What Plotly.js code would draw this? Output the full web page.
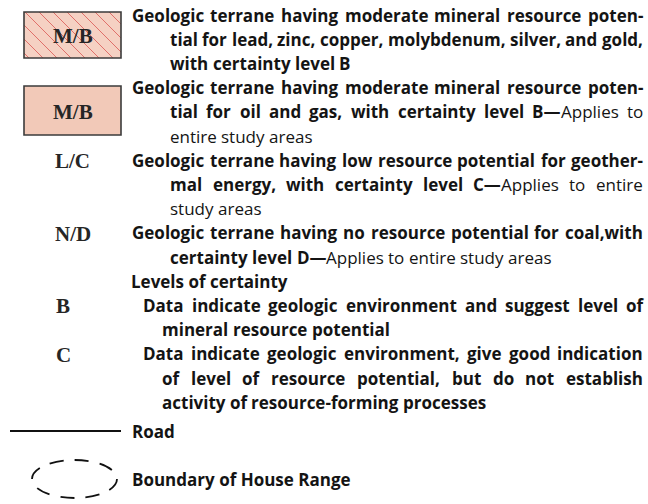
<!DOCTYPE html>
<html><head><meta charset="utf-8">
<script src="https://cdn.plot.ly/plotly-3.0.1.min.js"></script>
<style>html,body{margin:0;padding:0;background:#fff;} #chart{width:648px;height:504px;}</style>
</head><body><div id="chart"></div>
<script>
// ---- legend content ----
const terraneSymbols = ["M/B", "M/B", "L/C", "N/D"];
const terraneLines = [
  ["Geologic terrane having moderate mineral resource poten-",
   "tial for lead, zinc, copper, molybdenum, silver, and gold,",
   "with certainty level B"],
  ["Geologic terrane having moderate mineral resource poten-",
   "tial for oil and gas, with certainty level B\u2014Applies to",
   "entire study areas"],
  ["Geologic terrane having low resource potential for geother-",
   "mal energy, with certainty level C\u2014Applies to entire",
   "study areas"],
  ["Geologic terrane having no resource potential for coal,with",
   "certainty level D\u2014Applies to entire study areas"]
];
const certaintyHeading = "Levels of certainty";
const certaintySymbols = ["B", "C"];
const certaintyLines = [
  ["Data indicate geologic environment and suggest level of",
   "mineral resource potential"],
  ["Data indicate geologic environment, give good indication",
   "of level of resource potential, but do not establish",
   "activity of resource-forming processes"]
];
const lineLabels = ["Road", "Boundary of House Range"];

// ---- layout helpers ----
const FAMILY = "Open Sans";
const SIZE = 17;
const BOLD = 700, REG = 400;
const LINE0 = 15, LEAD = 24.2;
const RIGHT = 643;
const TXT = "#141414";
const ctx = document.createElement("canvas").getContext("2d");
function measure(t, wt) { ctx.font = wt + " " + SIZE + "px '" + FAMILY + "'"; return ctx.measureText(t).width; }
const annotations = [];
function addText(t, x, y, wt, extra) {
  annotations.push(Object.assign({
    x: x, y: y, xref: "x", yref: "y", text: t, showarrow: false,
    xanchor: "left", yanchor: "middle", borderpad: 0, borderwidth: 0,
    font: {family: FAMILY, size: SIZE, color: TXT, weight: wt}
  }, extra || {}));
}
function lineY(i) { return LINE0 + LEAD * i; }

// write a paragraph, justified except its last line; text after an em dash is regular weight
function paragraph(lines, firstIdx, x0, xCont) {
  let regular = false;
  lines.forEach(function (ln, k) {
    const words = ln.split(" ").map(function (w) {
      const pieces = [];
      if (!regular && w.indexOf("\u2014") >= 0) {
        const p = w.indexOf("\u2014");
        pieces.push({t: w.slice(0, p + 1), wt: BOLD});
        regular = true;
        pieces.push({t: w.slice(p + 1), wt: REG});
      } else {
        pieces.push({t: w, wt: regular ? REG : BOLD});
      }
      pieces.forEach(function (pc) { pc.w = measure(pc.t, pc.wt); });
      return {pieces: pieces, w: pieces.reduce(function (a, b) { return a + b.w; }, 0)};
    });
    const xs = k === 0 ? x0 : xCont;
    const last = k === lines.length - 1;
    const total = words.reduce(function (a, b) { return a + b.w; }, 0);
    const gap = (!last && words.length > 1) ? (RIGHT - xs - total) / (words.length - 1) : measure(" ", regular ? REG : BOLD);
    let x = xs;
    const y = lineY(firstIdx + k);
    words.forEach(function (w) {
      let px = x;
      w.pieces.forEach(function (pc) { if (pc.t) addText(pc.t, px, y, pc.wt); px += pc.w; });
      x += w.w + gap;
    });
  });
}

// ---- boxes ----
const boxes = [
  {x0: 24, x1: 121, y0: 12, y1: 58, fill: "#f5d1c3", hatch: true},
  {x0: 24, x1: 121, y0: 86, y1: 135, fill: "#f2c9b8", hatch: false}
];
const shapes = [];
const hx = [], hy = [];
boxes.forEach(function (b) {
  shapes.push({type: "rect", xref: "x", yref: "y", x0: b.x0, x1: b.x1, y0: b.y0, y1: b.y1,
    fillcolor: b.fill, line: {width: 0}, layer: "below"});
  shapes.push({type: "rect", xref: "x", yref: "y", x0: b.x0, x1: b.x1, y0: b.y0, y1: b.y1,
    fillcolor: "rgba(0,0,0,0)", line: {width: 1.6, color: "#3b3b3b"}, layer: "above"});
  if (b.hatch) {
    const s = 14;
    for (let c = b.x0 - b.y1 + 5; c < b.x1 - b.y0; c += s) {
      const xs = Math.max(b.x0, b.y0 + c), xe = Math.min(b.x1, b.y1 + c);
      if (xe > xs) { hx.push(xs, xe, null); hy.push(xs - c, xe - c, null); }
    }
  }
});

// ---- symbols ----
const SYMFONT = {family: "Liberation Serif", size: 21, color: "#262626", weight: 700};
const terraneFirst = [0, 3, 6, 9];
terraneSymbols.forEach(function (s, i) {
  if (i < boxes.length) {
    annotations.push({x: (boxes[i].x0 + boxes[i].x1) / 2, y: (boxes[i].y0 + boxes[i].y1) / 2 + 1, xref: "x", yref: "y",
      text: s, showarrow: false, xanchor: "center", yanchor: "middle", font: SYMFONT});
  } else {
    annotations.push({x: 53, y: lineY(terraneFirst[i]) + 1, xref: "x", yref: "y",
      text: s, showarrow: false, xanchor: "left", yanchor: "middle", font: SYMFONT});
  }
  paragraph(terraneLines[i], terraneFirst[i], 132, 170);
});
addText(certaintyHeading, 131, lineY(11), BOLD);
const certFirst = [12, 14];
certaintySymbols.forEach(function (s, i) {
  annotations.push({x: 54, y: lineY(certFirst[i]) + 1, xref: "x", yref: "y",
    text: s, showarrow: false, xanchor: "left", yanchor: "middle", font: SYMFONT});
  paragraph(certaintyLines[i], certFirst[i], 143, 162);
});

// ---- road & boundary ----
const ROADY = 431, BOUNDY = 479;
shapes.push({type: "line", xref: "x", yref: "y", x0: 10, x1: 121, y0: ROADY, y1: ROADY, line: {color: "#111", width: 2}});
shapes.push({type: "circle", xref: "x", yref: "y", x0: 32, x1: 117, y0: BOUNDY - 19, y1: BOUNDY + 19,
  line: {color: "#111", width: 1.8, dash: "14px,11px"}, fillcolor: "rgba(0,0,0,0)"});
addText(lineLabels[0], 132, ROADY, BOLD);
addText(lineLabels[1], 132, BOUNDY, BOLD);

const traces = [{type: "scatter", mode: "lines", x: hx, y: hy, line: {color: "#e0706a", width: 1}, hoverinfo: "skip", showlegend: false}];

Plotly.newPlot("chart", traces, {
  width: 648, height: 504, margin: {l: 0, r: 0, t: 0, b: 0},
  paper_bgcolor: "#ffffff", plot_bgcolor: "#ffffff",
  xaxis: {range: [0, 648], visible: false, fixedrange: true},
  yaxis: {range: [504, 0], visible: false, fixedrange: true},
  shapes: shapes, annotations: annotations, showlegend: false, hovermode: false
}, {displayModeBar: false, staticPlot: true});
</script>
</body></html>
